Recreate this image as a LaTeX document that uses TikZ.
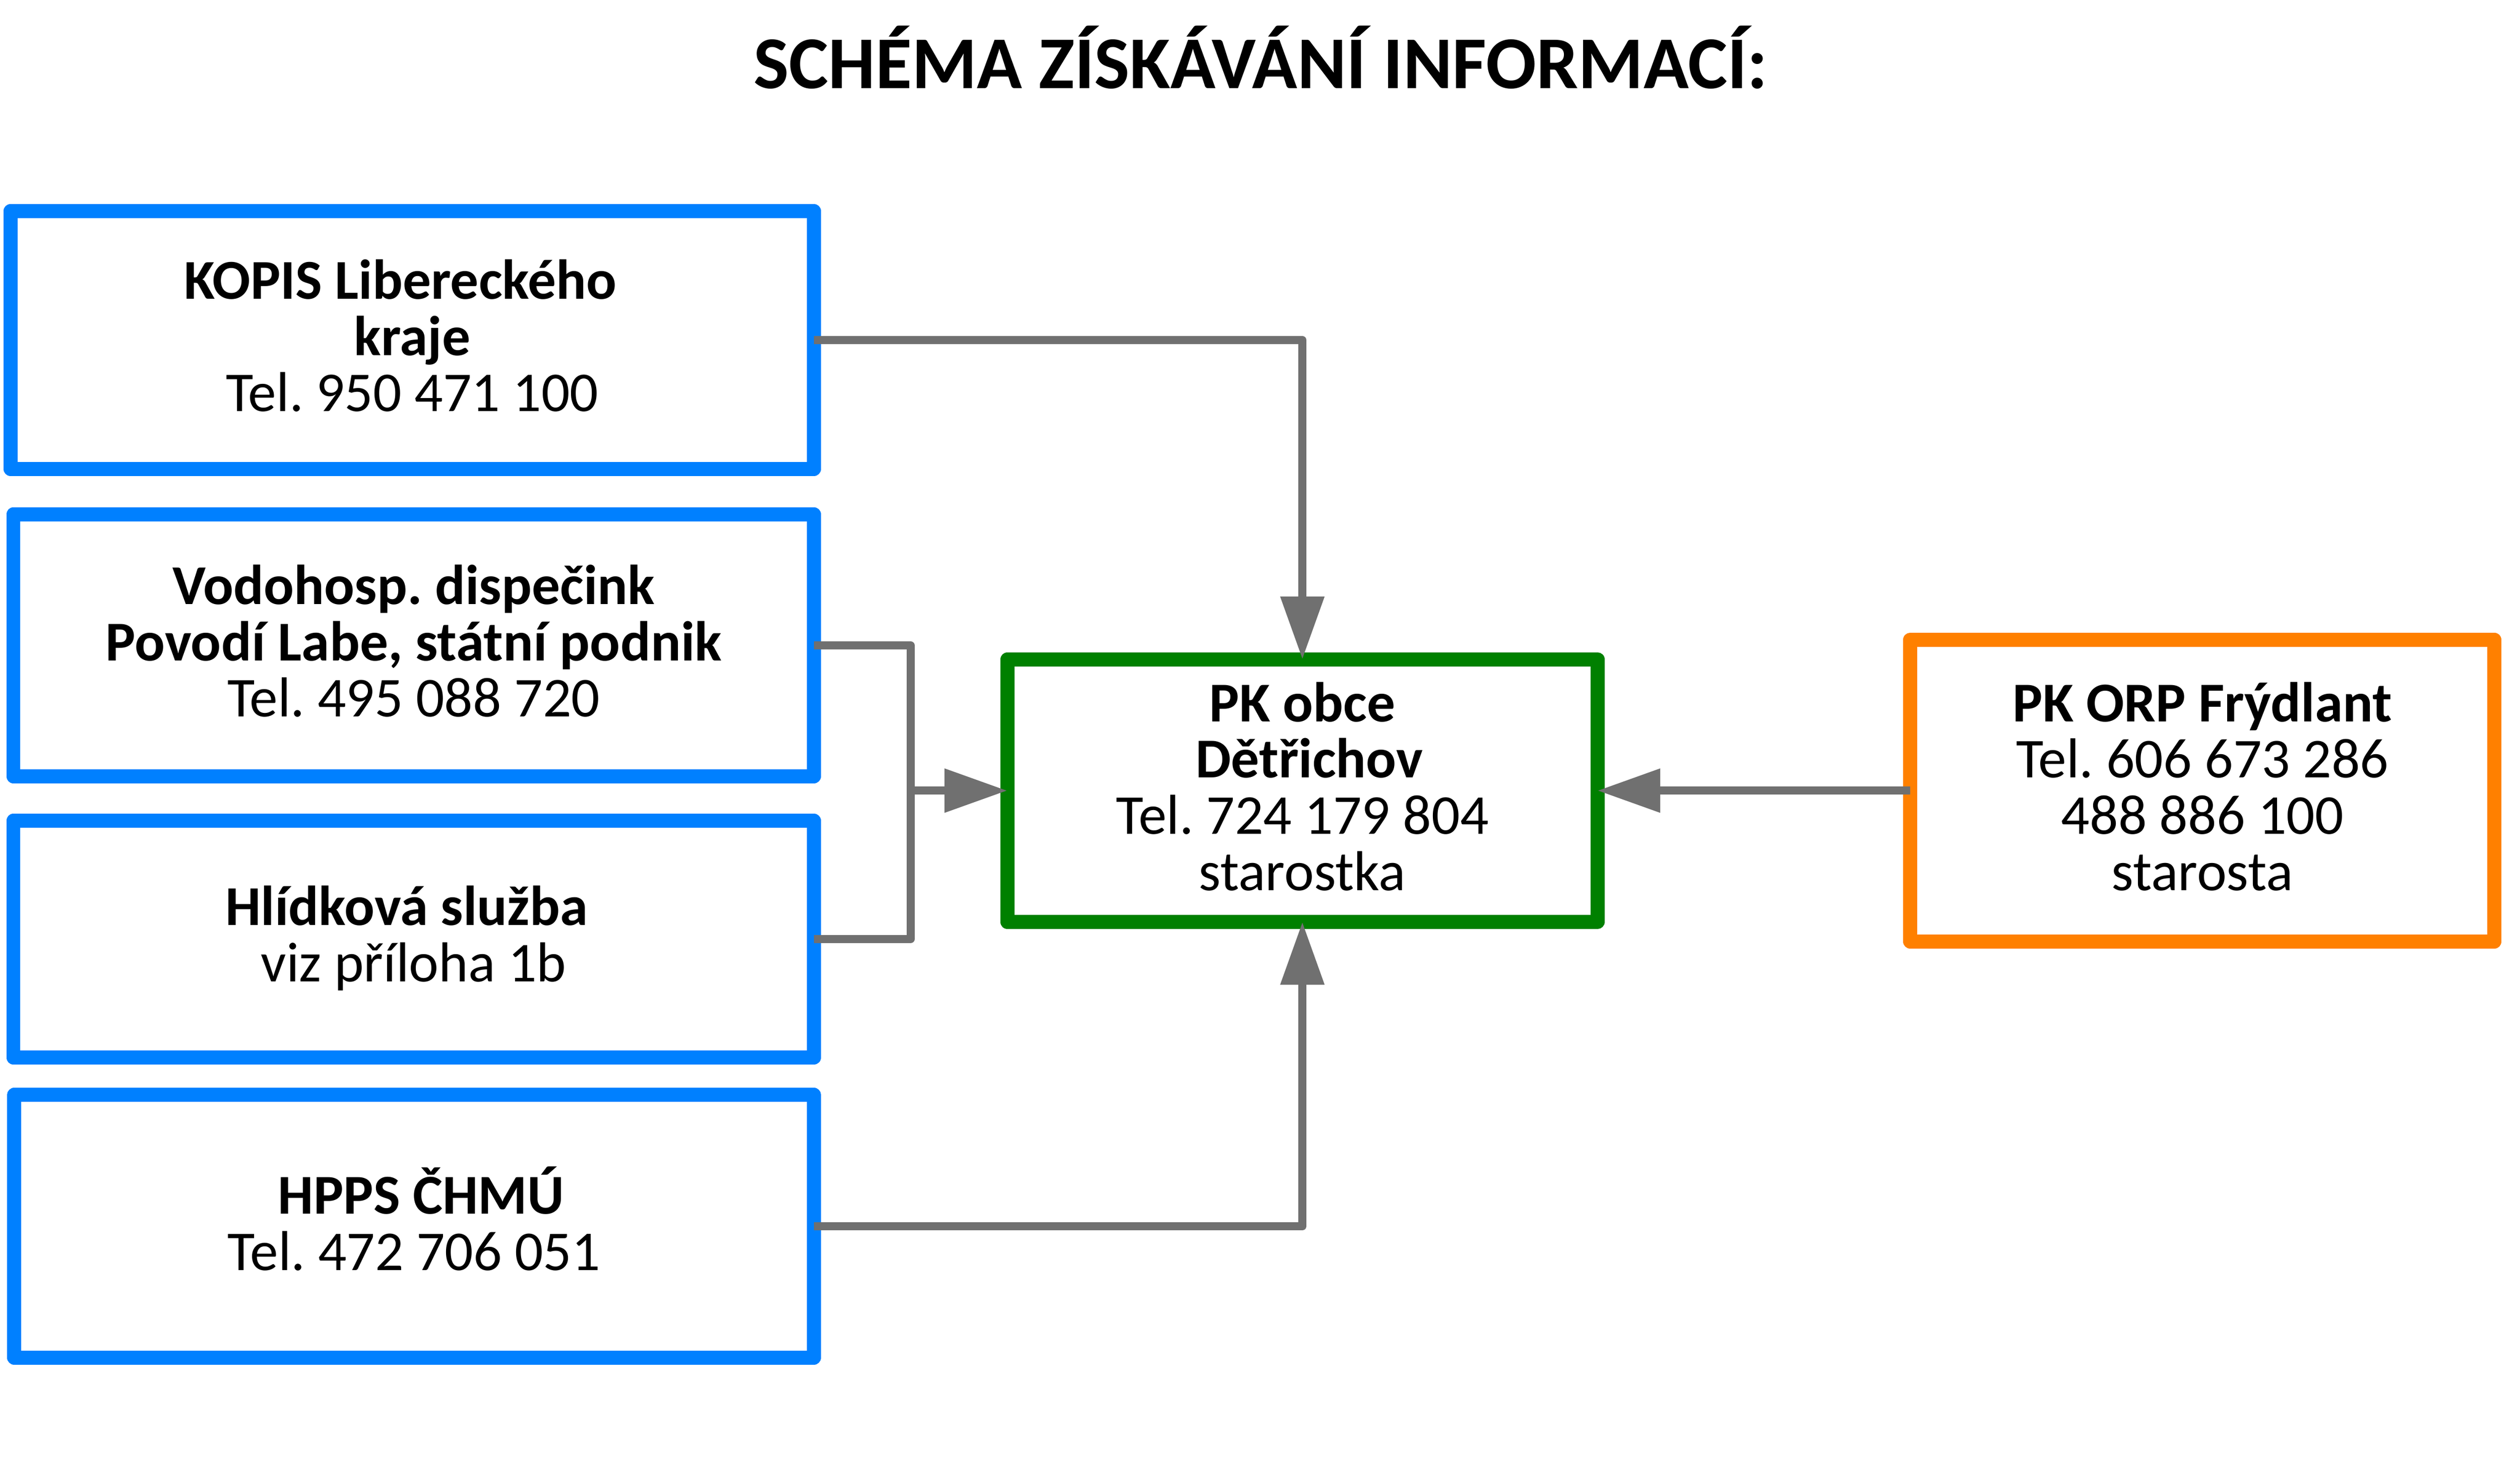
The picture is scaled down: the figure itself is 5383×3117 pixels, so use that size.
\documentclass[tikz,border=0pt]{standalone}
\usepackage{fontspec}
\setmainfont{Carlito}
\usetikzlibrary{arrows.meta}
\definecolor{cblue}{RGB}{0,128,255}
\definecolor{cgreen}{RGB}{0,128,0}
\definecolor{corange}{RGB}{255,128,0}
\definecolor{cgray}{RGB}{112,112,112}
\frenchspacing
\begin{document}
\begin{tikzpicture}[x=0.01cm,y=-0.01cm,
  box/.style={draw, line width=0.3cm, line join=round, fill=white, rectangle,
    outer sep=0pt, inner sep=0pt},
  txt/.style={align=center, inner sep=0pt, font=\fontsize{34.2}{34.14}\selectfont},
  conn/.style={draw=cgray, line width=0.17cm, line join=round},
  arr/.style={conn, -{Triangle[length=1.34cm,width=0.9cm]}},
  title/.style={anchor=base, inner sep=0pt, font=\fontsize{45.3}{50}\selectfont\bfseries}
]
\useasboundingbox (0,0) rectangle (5383,3117);
\fill[white] (0,0) rectangle (5383,3117);

\node[title] (t) at (2693,189) {SCHÉMA ZÍSKÁVÁNÍ INFORMACÍ:};

\node[box, draw=cblue, minimum width=17.15cm, minimum height=5.51cm] (kopis) at (880.5,726.5) {};
\node[box, draw=cblue, minimum width=17.09cm, minimum height=5.60cm] (vodo) at (883.5,1379) {};
\node[box, draw=cblue, minimum width=17.09cm, minimum height=5.06cm] (hlid) at (883.5,2007) {};
\node[box, draw=cblue, minimum width=17.07cm, minimum height=5.61cm] (hpps) at (884.5,2620.5) {};
\node[box, draw=cgreen, minimum width=12.60cm, minimum height=5.61cm] (pk) at (2782,1689.5) {};
\node[box, draw=corange, minimum width=12.47cm, minimum height=6.45cm] (orp) at (4704.5,1689.5) {};

\node[txt] (kopis-t) at ([yshift=0.09cm]kopis.center)
  {\textbf{KOPIS Libereckého}\hspace*{0.5cm}\\\textbf{kraje}\\Tel. 950 471 100};
\node[txt] (vodo-t) at ([yshift=0.09cm]vodo.center)
  {\textbf{Vodohosp. dispečink}\\\textbf{Povodí Labe, státní podnik}\\Tel. 495 088 720};
\node[txt] (hlid-t) at ([yshift=0.02cm]hlid.center)
  {\textbf{Hlídková služba}\hspace*{0.3cm}\\viz příloha 1b};
\node[txt] (hpps-t) at ([yshift=0.16cm]hpps.center)
  {\hspace*{0.3cm}\textbf{HPPS ČHMÚ}\\Tel. 472 706 051};
\node[txt] (pk-t) at ([yshift=0.09cm]pk.center)
  {\textbf{PK obce}\\\hspace*{0.3cm}\textbf{Dětřichov}\\Tel. 724 179 804\\starostka};
\node[txt] (orp-t) at ([yshift=0.09cm]orp.center)
  {\textbf{PK ORP Frýdlant}\\Tel. 606 673 286\\488 886 100\\starosta};

\coordinate (jx) at (1945,1689.5);
\draw[arr] (kopis.east) -| (pk.north);
\draw[conn] (vodo.east) -| (jx) |- (hlid.east);
\draw[arr] (jx) -- (pk.west);
\draw[arr] (hpps.east) -| (pk.south);
\draw[arr] (orp.west) -- (pk.east);
\end{tikzpicture}
\end{document}
